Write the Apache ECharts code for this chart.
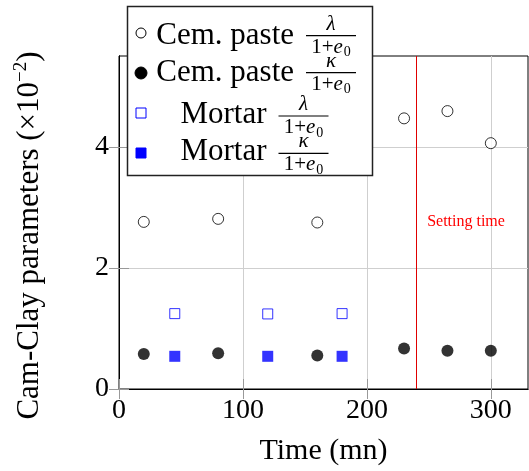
<!DOCTYPE html>
<html>
<head>
<meta charset="utf-8">
<script src="https://cdn.jsdelivr.net/npm/echarts@6/dist/echarts.min.js"></script>
<style>
html,body{margin:0;padding:0;background:#fff;}
#chart{width:529px;height:471px;}
</style>
</head>
<body>
<div id="chart"></div>
<script>
// ---- data ----
const cemTimes = [20, 80, 160, 230, 265, 300];
const cemLambda = [2.76, 2.81, 2.75, 4.47, 4.59, 4.06];
const cemKappa = [0.58, 0.59, 0.555, 0.67, 0.63, 0.63];
const mortarTimes = [45, 120, 180];
const mortarLambda = [1.245, 1.24, 1.245];
const mortarKappa = [0.54, 0.54, 0.54];
const settingTime = 240;
const settingLabel = 'Setting time';
const xTicks = [0, 100, 200, 300];
const yTicks = [0, 2, 4];
const legendLabels = ['Cem. paste', 'Cem. paste', 'Mortar', 'Mortar'];
const legendNumerators = ['λ', 'κ', 'λ', 'κ'];

const FONT = '"Liberation Serif", "Times New Roman", serif';
const pairs = (xs, ys) => xs.map((x, i) => [x, ys[i]]);

const chart = echarts.init(document.getElementById('chart'), null, {renderer: 'canvas'});

const tickStyle = {show: true, inside: true, length: 10, lineStyle: {color: '#999', width: 1}};
const axisLine = {show: true, lineStyle: {color: '#000', width: 1}};

// legend graphic
const symX = 141;
const rowLine = [35.7, 72.7, 116, 153.3];
const rowText = [36, 73, 115, 152];
const fracCx = [331, 331, 303.5, 303.5];
const fracHalfW = 25;
const graphics = [{
  type: 'rect', z: 100,
  shape: {x: 127.5, y: 6.5, width: 245, height: 169},
  style: {fill: '#fff', stroke: '#222', lineWidth: 1.5}
}];
const symStyles = [
  {type: 'circle', fill: '#fff', stroke: '#000'},
  {type: 'circle', fill: '#000', stroke: '#000'},
  {type: 'rect', fill: '#fff', stroke: '#0000ff'},
  {type: 'rect', fill: '#0000ff', stroke: '#0000ff'}
];
const symCy = [33, 73, 113, 153];
for (let i = 0; i < 4; i++) {
  const s = symStyles[i];
  if (s.type === 'circle') {
    graphics.push({type: 'circle', z: 101, shape: {cx: symX, cy: symCy[i], r: s.fill === '#fff' ? 5 : 6},
      style: {fill: s.fill, stroke: s.stroke, lineWidth: 1}});
  } else {
    graphics.push({type: 'rect', z: 101, shape: {x: symX - 5, y: symCy[i] - 5, width: 10, height: 10},
      style: {fill: s.fill, stroke: s.stroke, lineWidth: 1}});
  }
  graphics.push({type: 'text', z: 101, x: fracCx[i] - fracHalfW - 12, y: rowText[i],
    style: {text: legendLabels[i], font: '31px ' + FONT, fill: '#000', textAlign: 'right', textVerticalAlign: 'middle'}});
  graphics.push({type: 'line', z: 101, shape: {x1: fracCx[i] - fracHalfW, y1: rowLine[i], x2: fracCx[i] + fracHalfW, y2: rowLine[i]},
    style: {stroke: '#000', lineWidth: 1.2}});
  graphics.push({type: 'text', z: 101, x: fracCx[i], y: rowLine[i] - 1,
    style: {text: legendNumerators[i], font: 'italic 21px ' + FONT, fill: '#000', textAlign: 'center', textVerticalAlign: 'bottom'}});
  graphics.push({type: 'text', z: 101, x: fracCx[i], y: rowLine[i] + 1,
    style: {text: '{n|1+}{e|e}{s|0}', textAlign: 'center', textVerticalAlign: 'top',
      rich: {
        n: {fontSize: 21, fontFamily: FONT, lineHeight: 22, verticalAlign: 'top', fill: '#000'},
        e: {fontSize: 21, fontFamily: FONT, fontStyle: 'italic', lineHeight: 22, verticalAlign: 'top', fill: '#000'},
        s: {fontSize: 14, fontFamily: FONT, lineHeight: 14, padding: [9, 0, 0, 1], verticalAlign: 'top', fill: '#000'}
      }}});
}

const option = {
  animation: false,
  backgroundColor: '#fff',
  grid: {left: 119, right: 1, top: 56, bottom: 82, show: true, borderColor: '#000', borderWidth: 1, backgroundColor: 'transparent'},
  xAxis: [
    {
      type: 'value', position: 'bottom', min: 0, max: 330, interval: 100,
      axisLine: axisLine,
      axisTick: Object.assign({customValues: xTicks}, tickStyle),
      name: 'Time (mn)', nameLocation: 'middle', nameGap: 47,
      nameTextStyle: {fontFamily: FONT, fontSize: 30, color: '#000'},
      axisLabel: {show: true, customValues: xTicks, fontFamily: FONT, fontSize: 28, color: '#000', margin: 8},
      splitLine: {show: true, lineStyle: {color: '#cfcfcf', width: 1}}
    },
    {
      type: 'value', position: 'top', min: 0, max: 330, interval: 100,
      axisLine: axisLine,
      axisTick: Object.assign({customValues: xTicks}, tickStyle),
      axisLabel: {show: false}, splitLine: {show: false}
    }
  ],
  yAxis: [
    {
      type: 'value', position: 'left', min: 0, max: 5.5, interval: 2,
      axisLine: axisLine,
      axisTick: Object.assign({customValues: yTicks}, tickStyle),
      name: '{a|Cam-Clay parameters (×10}{s|−2}{a|)}', nameLocation: 'middle', nameGap: 74,
      nameTextStyle: {
        padding: [0, 26, 0, 0],
        rich: {
          a: {fontFamily: FONT, fontSize: 31, color: '#000', lineHeight: 31, verticalAlign: 'bottom'},
          s: {fontFamily: FONT, fontSize: 19, color: '#000', lineHeight: 19, padding: [0, 0, 14, 0], verticalAlign: 'bottom'}
        }
      },
      axisLabel: {show: true, customValues: yTicks, fontFamily: FONT, fontSize: 28, color: '#000', margin: 10},
      splitLine: {show: true, lineStyle: {color: '#cfcfcf', width: 1}}
    },
    {
      type: 'value', position: 'right', min: 0, max: 5.5, interval: 2,
      axisLine: axisLine,
      axisTick: Object.assign({customValues: yTicks}, tickStyle),
      axisLabel: {show: false}, splitLine: {show: false}
    }
  ],
  series: [
    {
      type: 'scatter', name: 'Cem. paste lambda', data: pairs(cemTimes, cemLambda),
      symbol: 'circle', symbolSize: 11,
      itemStyle: {color: '#fff', borderColor: '#000', borderWidth: 1},
      markLine: {
        silent: true, symbol: 'none', animation: false,
        data: [{xAxis: settingTime}],
        lineStyle: {color: '#e00000', type: 'solid', width: 1},
        label: {show: false}
      },
      markPoint: {
        silent: true, symbol: 'circle', symbolSize: 0,
        data: [{coord: [280, 2.76]}],
        label: {show: true, position: 'inside', formatter: settingLabel, color: '#ff0000', fontFamily: FONT, fontSize: 16}
      }
    },
    {
      type: 'scatter', name: 'Cem. paste kappa', data: pairs(cemTimes, cemKappa),
      symbol: 'circle', symbolSize: 12,
      itemStyle: {color: '#000'}
    },
    {
      type: 'scatter', name: 'Mortar lambda', data: pairs(mortarTimes, mortarLambda),
      symbol: 'rect', symbolSize: 10,
      itemStyle: {color: '#fff', borderColor: '#0000ff', borderWidth: 1}
    },
    {
      type: 'scatter', name: 'Mortar kappa', data: pairs(mortarTimes, mortarKappa),
      symbol: 'rect', symbolSize: 11,
      itemStyle: {color: '#0000ff'}
    }
  ],
  graphic: graphics
};
chart.setOption(option);
</script>
</body>
</html>
